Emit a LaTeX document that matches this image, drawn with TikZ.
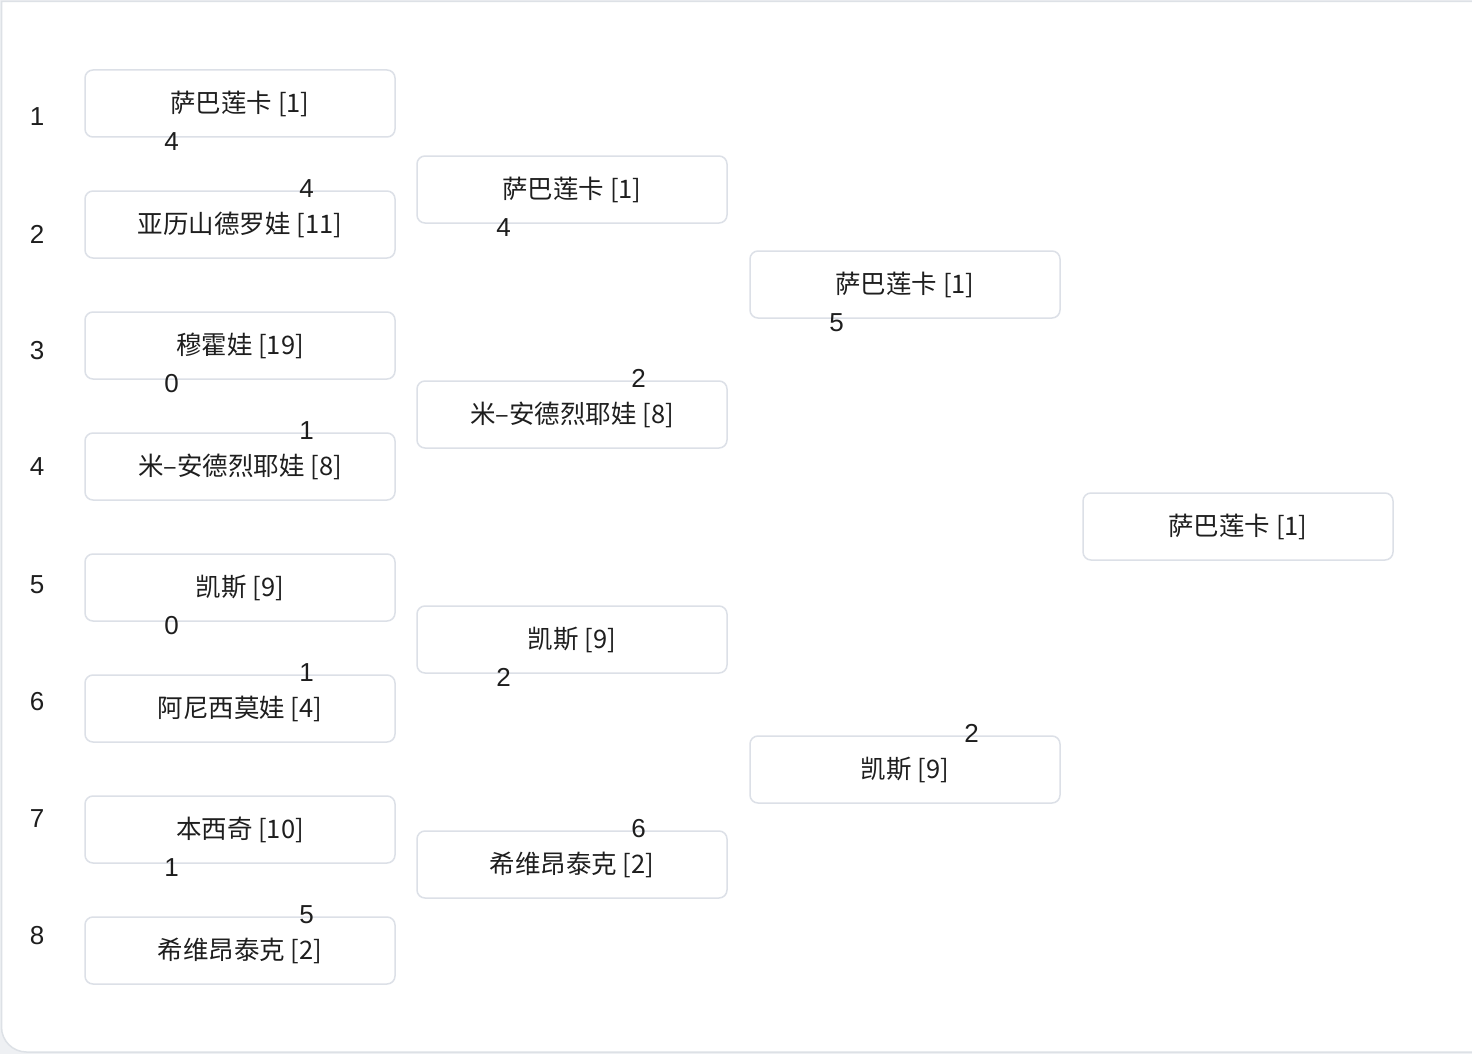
\documentclass[tikz,border=0pt]{standalone}
\usepackage{fontspec}
\newfontfamily\cjk{Noto Sans CJK SC}
\newfontfamily\numfont{Liberation Sans}
\definecolor{boxgray}{HTML}{DCE0E7}
\definecolor{framegray}{HTML}{DDE1E6}
\definecolor{outgray}{HTML}{EEF0F3}
\definecolor{ink}{HTML}{1E1E1E}
\tikzset{
  team/.style={draw=boxgray, line width=1.5pt, rounded corners=8pt, fill=white,
    minimum width=310pt, minimum height=67pt, inner sep=0pt, text=ink,
    font=\cjk\fontsize{25.5}{28}\selectfont},
  score/.style={inner sep=0pt, anchor=west, text=ink, font=\numfont\fontsize{26}{28}\selectfont},
  rowlab/.style={inner sep=0pt, text=ink, font=\numfont\fontsize{26}{28}\selectfont}
}
\begin{document}
\begin{tikzpicture}[x=1pt,y=-1pt]
\useasboundingbox (0,0) rectangle (1472,1054);
\fill[outgray] (0,0) rectangle (1472,1054);
\path[draw=framegray, fill=white, line width=1.5pt] (1490,1.5) -- (1.5,1.5) -- (1.5,1027) arc[start angle=180, end angle=90, radius=25] -- (1490,1052);
% row labels
\foreach \i/\y in {1/117,2/234,3/351,4/467,5/585,6/702,7/819,8/936}
  \node[rowlab] (lab\i) at (37,\y) {\i};
% round 1
\node[team] (a1) at (240,103.5) {萨巴莲卡 [1]};
\node[team] (a2) at (240,224.5) {亚历山德罗娃 [11]};
\node[team] (a3) at (240,345.5) {穆霍娃 [19]};
\node[team] (a4) at (240,466.5) {米–安德烈耶娃 [8]};
\node[team] (a5) at (240,587.5) {凯斯 [9]};
\node[team] (a6) at (240,708.5) {阿尼西莫娃 [4]};
\node[team] (a7) at (240,829.5) {本西奇 [10]};
\node[team] (a8) at (240,950.5) {希维昂泰克 [2]};
% round 2
\node[team] (b1) at (572,189.5) {萨巴莲卡 [1]};
\node[team] (b2) at (572,414.5) {米–安德烈耶娃 [8]};
\node[team] (b3) at (572,639.5) {凯斯 [9]};
\node[team] (b4) at (572,864.5) {希维昂泰克 [2]};
% round 3
\node[team] (c1) at (905,284.5) {萨巴莲卡 [1]};
\node[team] (c2) at (905,769.5) {凯斯 [9]};
% final
\node[team] (d1) at (1238,526.5) {萨巴莲卡 [1]};
% scores
\tikzset{topsc/.style={xshift=80pt,yshift=-4pt}, botsc/.style={xshift=215pt,yshift=1.5pt}}
\node[score] (s1) at ([topsc]a1.south west) {4};
\node[score] (s2) at ([botsc]a2.north west) {4};
\node[score] (s3) at ([topsc]a3.south west) {0};
\node[score] (s4) at ([botsc]a4.north west) {1};
\node[score] (s5) at ([topsc]a5.south west) {0};
\node[score] (s6) at ([botsc]a6.north west) {1};
\node[score] (s7) at ([topsc]a7.south west) {1};
\node[score] (s8) at ([botsc]a8.north west) {5};
\node[score] (t1) at ([topsc]b1.south west) {4};
\node[score] (t2) at ([botsc]b2.north west) {2};
\node[score] (t3) at ([topsc]b3.south west) {2};
\node[score] (t4) at ([botsc]b4.north west) {6};
\node[score] (u1) at ([topsc]c1.south west) {5};
\node[score] (u2) at ([botsc]c2.north west) {2};
\end{tikzpicture}
\end{document}
